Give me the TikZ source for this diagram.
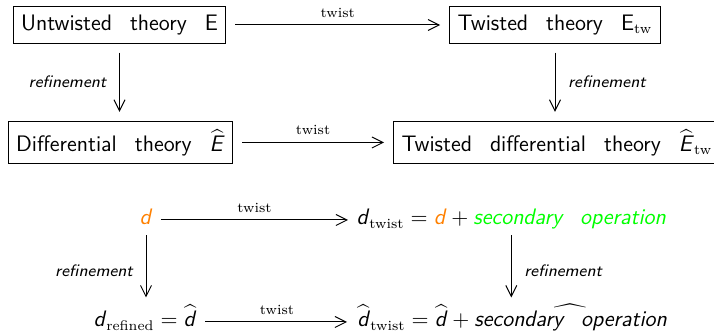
\documentclass[tikz,border=0pt]{standalone}
\usepackage{amsmath}
\usetikzlibrary{arrows.meta,positioning}

\newcommand\wsp{\hspace{9pt}}
\newcommand\sfit[1]{\textsf{\textit{#1}}}
\newcommand\subtxt[1]{\mbox{\fontsize{7}{8}\selectfont\rmfamily #1}}

\begin{document}
\begin{tikzpicture}[x=0.5pt,y=-0.5pt,line width=0.5pt,
  font=\fontsize{11.2}{13}\selectfont\sffamily,
  >={Straight Barb[length=5.5pt,width=5.5pt]},
  theory/.style={draw,inner xsep=4pt,inner ysep=4pt},
  term/.style={inner sep=0pt,text height=9pt,text depth=4pt},
  arr/.style={->,shorten >=4.5pt,shorten <=4.5pt},
  vert/.style={->,shorten >=5.5pt,shorten <=1pt},
  twistlbl/.style={font=\fontsize{7}{8}\selectfont\rmfamily,above=0.3pt},
  reflbl/.style={font=\fontsize{8.3}{10}\selectfont\sffamily\itshape}]
\useasboundingbox (0,0) rectangle (714,331);
% ---------- theories ----------
\node[theory] (E)     at (119.5,25)  {Untwisted\wsp theory\wsp E};
\node[theory] (Etw)   at (555,25)    {Twisted\wsp theory\wsp E$_{\subtxt{tw}}$};
\node[theory] (Ehat)  at (120.5,142.5) {Differential\wsp theory\wsp $\widehat{\sfit{E}}$};
\node[theory,anchor=west] (Ehtw) at (393,142.5) {Twisted\wsp differential\wsp theory\wsp $\widehat{\sfit{E}}_{\subtxt{tw}}$};
\draw[arr] (E) -- node[twistlbl] {twist} (Etw);
\draw[arr] (Ehat) -- node[twistlbl] {twist} (Ehtw);
\draw[arr] (E) -- node[reflbl,left=3pt] {refinement} (E |- Ehat.north);
\draw[arr] (Etw) -- node[reflbl,right=3pt] {refinement} (Etw |- Ehtw.north);
% ---------- differentials ----------
\node[term,anchor=base] (d) at (146,225) {\color{orange}$\sfit{d}$};
\node[term,anchor=base west] (dtw) at (356,225)
  {$\sfit{d}_{\subtxt{twist}}=\textcolor{orange}{\sfit{d}}+\textcolor{green}{\sfit{secondary\wsp operation}}$};
\node[term,anchor=base east] (dref) at (197,327) {$\sfit{d}_{\subtxt{refined}}=\widehat{\sfit{d}}$};
\node[term,anchor=base west] (dhtw) at (357,327)
  {$\widehat{\sfit{d}}_{\subtxt{twist}}=\widehat{\sfit{d}}+\widehat{\sfit{secondary\wsp operation}}$};
\draw[arr,shorten <=4pt,shorten >=4pt] (d) -- node[twistlbl] {twist} (dtw);
\draw[arr,shorten <=4pt,shorten >=5pt] (dref) -- node[twistlbl] {twist} (dhtw);
\draw[vert] (d) -- node[reflbl,left=3pt] {refinement} (d |- dref.north);
\draw[vert] (dtw) -- node[reflbl,right=3pt] {refinement} (dtw |- dhtw.north);
\end{tikzpicture}
\end{document}
